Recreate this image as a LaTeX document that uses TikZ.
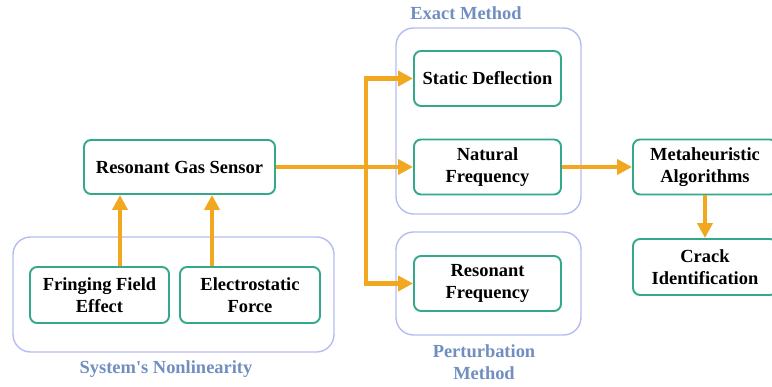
\documentclass[tikz,border=0pt]{standalone}
\usepackage{fontspec}
\setmainfont{Liberation Serif}
\usetikzlibrary{arrows.meta}
\definecolor{flowc}{RGB}{242,168,30}
\definecolor{boxc}{RGB}{52,168,138}
\definecolor{grpc}{RGB}{182,188,240}
\definecolor{grptxt}{RGB}{112,142,192}

\begin{document}
\begin{tikzpicture}[line width=0.9pt,>={Triangle[length=3mm,width=3mm]},
  blk/.style={draw=boxc,line width=1.1pt,rounded corners=4pt,fill=white,align=center,
    minimum width=2.94cm,minimum height=1.1cm,font=\fontsize{10.5}{12.5}\selectfont\bfseries},
  grp/.style={draw=grpc,line width=0.8pt,rounded corners=10pt},
  grplab/.style={text=grptxt,align=center,font=\fontsize{10.5}{12.5}\selectfont\bfseries},
  flow/.style={draw=flowc,line width=2.4pt,->}]
  \useasboundingbox (0,0) rectangle (15.44,7.74);
  % groups
  \draw[grp] (0.26,0.70) rectangle (6.68,3.00);
  \draw[grp] (7.92,3.46) rectangle (11.62,7.18);
  \draw[grp] (7.92,1.04) rectangle (11.62,3.10);
  \node[grplab] (lnl) at (3.32,0.36) {System\textquotesingle s Nonlinearity};
  \node[grplab] (lex) at (9.32,7.48) {Exact Method};
  \node[grplab] (lpt) at (9.68,0.50) {Perturbation\\Method};
  % blocks
  \node[blk,minimum width=3.82cm,minimum height=1.08cm] (rgs) at (3.59,4.40) {Resonant Gas Sensor};
  \node[blk,minimum width=2.78cm,minimum height=1.12cm] (ffe) at (1.99,1.84) {Fringing Field\\Effect};
  \node[blk,minimum width=2.80cm,minimum height=1.12cm] (esf) at (5.00,1.84) {Electrostatic\\Force};
  \node[blk] (sd) at (9.75,6.17) {Static Deflection};
  \node[blk] (nf) at (9.75,4.40) {Natural\\Frequency};
  \node[blk] (rf) at (9.75,2.07) {Resonant\\Frequency};
  \node[blk,minimum width=2.88cm,minimum height=1.1cm] (ma) at (14.10,4.40) {Metaheuristic\\Algorithms};
  \node[blk,minimum width=2.88cm,minimum height=1.12cm] (ci) at (14.10,2.40) {Crack\\Identification};
  % arrows
  \coordinate (br) at (7.32,4.40);
  \draw[flow] (2.4,0 |- ffe.north) -- (2.4,0 |- rgs.south);
  \draw[flow] (4.24,0 |- esf.north) -- (4.24,0 |- rgs.south);
  \draw[flow] (rgs.east) -- (nf.west);
  \draw[flow] (br) |- (sd.west);
  \draw[flow] (br) |- (rf.west);
  \draw[flow] (nf.east) -- (ma.west);
  \draw[flow] (ma.south) -- (ci.north);
\end{tikzpicture}
\end{document}
